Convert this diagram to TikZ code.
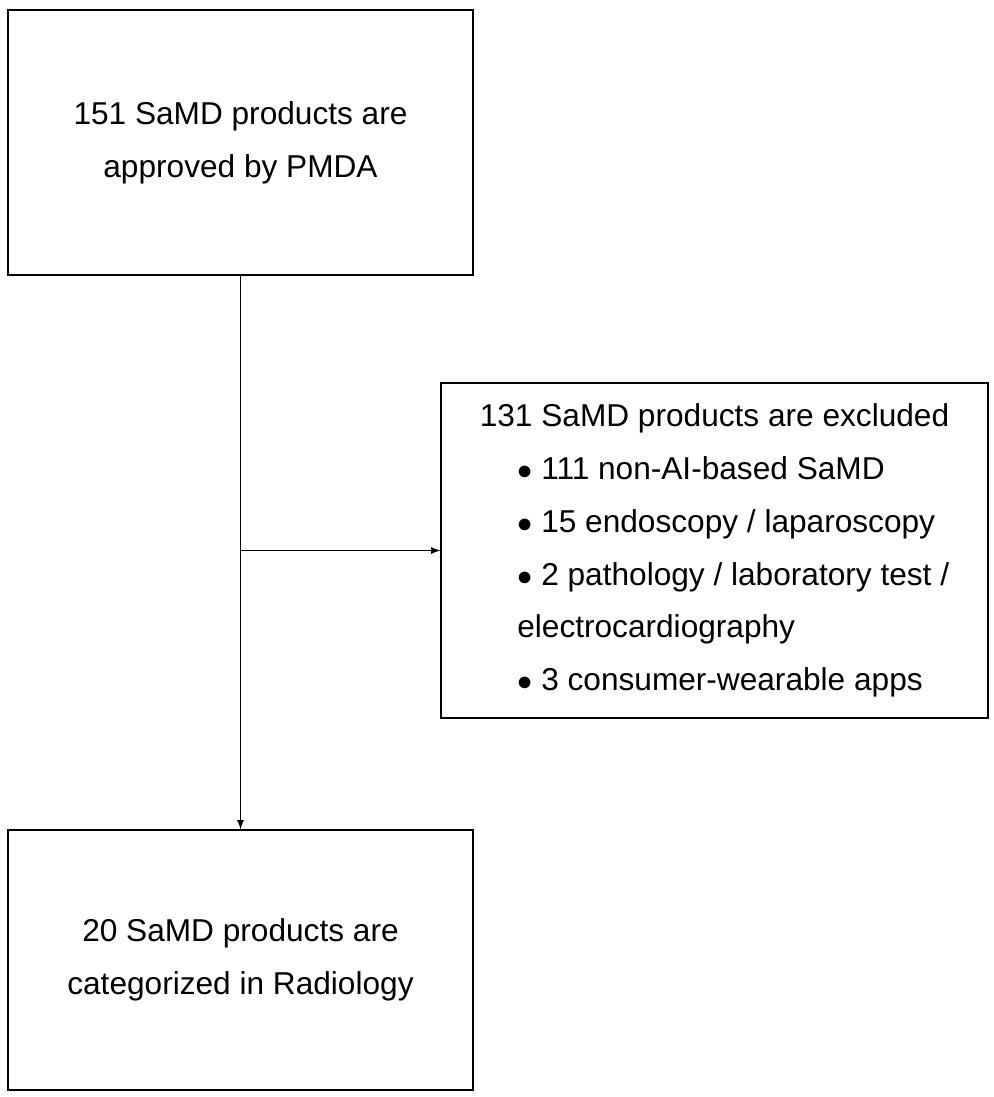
\documentclass[tikz,border=0pt]{standalone}
\usepackage{fontspec}
\setmainfont{Liberation Sans}
\usetikzlibrary{positioning}
\tikzset{box/.style = {draw, thick, minimum width = 9.3cm, minimum height = 5.3cm, align = center,
                       font = \fontsize{18}{30}\selectfont}}
\tikzset{arr/.style = {thick, -latex}}
\begin{document}
\begin{tikzpicture}[x=0.02cm, y=-0.02cm]
    \useasboundingbox (0,0) rectangle (993,1097);
    \node [box] (approved) at (240.5,142.5) {151 SaMD products are\\approved by PMDA};
    \node [box, minimum height = 5.2cm] (radiology) at (240.5,960) {20 SaMD products are\\categorized in Radiology};
    \node [box, minimum width = 10.94cm, minimum height = 6.7cm, align = left] (excluded) at (714.5,550.5)
        {131 SaMD products are excluded\\
         \hspace*{0.75cm}$\bullet$ 111 non-AI-based SaMD\\
         \hspace*{0.75cm}$\bullet$ 15 endoscopy / laparoscopy\\
         \hspace*{0.75cm}$\bullet$ 2 pathology / laboratory test /\\
         \hspace*{0.75cm}electrocardiography\\
         \hspace*{0.75cm}$\bullet$ 3 consumer-wearable apps};
    \coordinate (split) at (approved.south |- excluded.west);
    \draw [arr] (approved.south) -- (radiology.north);
    \draw [arr] (split) -- (excluded.west);
\end{tikzpicture}
\end{document}
